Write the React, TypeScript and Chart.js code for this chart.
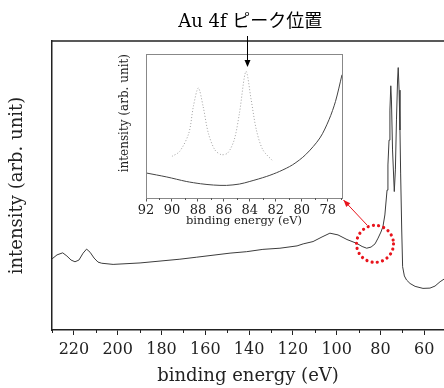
import React, { useEffect, useRef } from 'react';
import { Chart, registerables } from 'chart.js';

Chart.register(...registerables);

// ---- main spectrum (binding energy eV, intensity arb.) ----
const mainEnergy = [
  230, 227.7, 225.1, 223.2, 221.3, 219.5, 217.7, 215.8, 214.2, 212.6, 210.8, 209, 207.3,
  202.1, 189.8, 171.6, 163.9, 148.7, 141.1, 133.7, 125.9, 118.1, 115.3, 110.8, 106.7, 103.1,
  99.4, 95.3, 90.9, 88.4, 86.3, 84.3, 82.5, 81.1, 79.8, 78.9, 78.0, 77.0, 76.6, 76.1, 75.7,
  75.3, 75.0, 74.5, 73.7, 73.2, 72.7, 72.2, 71.9, 71.5, 71.1, 70.8, 70.3, 69.9, 69.1, 68.1,
  66.5, 64.2, 60.6, 57.4, 55.1, 52.8, 51,
];
const mainIntensity = [
  24.6, 26.0, 26.7, 25.6, 24.2, 23.6, 24.2, 26.6, 28.0, 26.9, 24.9, 23.5, 23.1,
  22.7, 23.2, 24.5, 25.2, 26.6, 27.1, 27.9, 28.3, 29.1, 29.8, 30.6, 32.2, 33.5,
  32.9, 31.3, 30.0, 28.9, 28.3, 28.7, 29.8, 31.8, 33.9, 35.7, 39.8, 48.4, 57.1, 65.7, 76.1,
  84.5, 79.6, 62.3, 47.9, 55.4, 72.7, 86.5, 90.8, 83.0, 69.2, 54.3, 34.6, 21.9, 18.7, 17.3,
  16.1, 15.1, 14.4, 14.5, 15.2, 16.7, 17.6,
];
const mainTicks = [220, 200, 180, 160, 140, 120, 100, 80, 60];
const mainMinorTicks = [230, 210, 190, 170, 150, 130, 110, 90, 70];

// ---- inset: measured spectrum and Au 4f reference (dotted) ----
const insetEnergy = [92, 90.4, 88.9, 87.8, 86.8, 85.8, 84.8, 84.0, 82.7, 81.7, 80.7, 79.7, 78.6, 77.9, 77.4, 76.9];
const insetIntensity = [17.4, 14.6, 11.5, 9.9, 9.0, 8.75, 9.7, 11.5, 15.0, 18.5, 23.1, 30.1, 41.7, 54.4, 67.1, 85.6];
const refEnergy = [90.0, 89.4, 88.7, 88.35, 87.97, 87.6, 87.2, 86.7, 86.2, 85.7, 85.2, 84.8, 84.3, 83.9, 83.5, 83.0, 82.2];
const refIntensity = [28.9, 32.4, 45.1, 63.6, 76.4, 63.6, 45.1, 33.5, 30.1, 31.3, 40.5, 59.0, 87.9, 68.3, 47.4, 33.5, 25.4];
const insetTicks = [92, 90, 88, 86, 84, 82, 80, 78];
const insetMinorTicks = [91, 89, 87, 85, 83, 81, 79, 77];

// ---- annotations ----
const peakLabel = 'Au 4f ピーク位置';
const peakEnergy = 84.2;
const circleEnergy = 82.5;
const circleIntensity = 29.8;

const SERIF = '"DejaVu Serif", "Noto Sans CJK JP", serif';
const INK = '#222';

const pts = (xs: number[], ys: number[]) => xs.map((x, i) => ({ x, y: ys[i] }));

function arrowHead(ctx: CanvasRenderingContext2D, x: number, y: number, ang: number, len: number, half: number) {
  ctx.beginPath();
  ctx.moveTo(x, y);
  ctx.lineTo(x - len * Math.cos(ang) + half * Math.sin(ang), y - len * Math.sin(ang) - half * Math.cos(ang));
  ctx.lineTo(x - len * Math.cos(ang) - half * Math.sin(ang), y - len * Math.sin(ang) + half * Math.cos(ang));
  ctx.closePath();
  ctx.fill();
}

export default function App() {
  const mainRef = useRef<HTMLCanvasElement>(null);
  const insetRef = useRef<HTMLCanvasElement>(null);

  useEffect(() => {
    const mainDecor = {
      id: 'mainDecor',
      afterDraw(chart: any) {
        const { ctx, chartArea: ca, scales } = chart;
        ctx.save();
        ctx.strokeStyle = INK;
        ctx.lineWidth = 1.5;
        ctx.beginPath();
        ctx.moveTo(ca.left, ca.top);
        ctx.lineTo(ca.right, ca.top);
        ctx.stroke();
        ctx.lineWidth = 1;
        ctx.beginPath();
        for (const v of mainMinorTicks) {
          const px = Math.round(scales.x.getPixelForValue(v)) + 0.5;
          ctx.moveTo(px, ca.bottom);
          ctx.lineTo(px, ca.bottom + 3);
        }
        ctx.stroke();
        ctx.restore();
      },
    };

    const main = new Chart(mainRef.current!, {
      type: 'line',
      data: {
        datasets: [{
          data: pts(mainEnergy, mainIntensity),
          borderColor: '#3c3c3c',
          borderWidth: 1,
          pointRadius: 0,
          tension: 0,
          fill: false,
        }],
      },
      options: {
        responsive: false,
        animation: false,
        events: [],
        layout: { padding: { left: 0, top: 41, right: 0, bottom: 0 } },
        plugins: { legend: { display: false }, tooltip: { enabled: false } },
        scales: {
          x: {
            type: 'linear',
            reverse: true,
            min: 51,
            max: 230,
            afterBuildTicks: (s: any) => { s.ticks = mainTicks.map((v) => ({ value: v })); },
            afterFit: (s: any) => { s.height = 58; },
            grid: { display: true, drawOnChartArea: false, drawTicks: true, tickLength: 5, color: INK, tickColor: INK },
            border: { display: true, color: INK, width: 1.5 },
            ticks: { color: INK, font: { family: SERIF, size: 16 }, padding: 5, maxRotation: 0, autoSkip: false },
            title: { display: true, text: 'binding energy (eV)', color: INK, font: { family: SERIF, size: 18 }, padding: { top: 0, bottom: 1 } },
          },
          y: {
            min: 0,
            max: 100,
            afterFit: (s: any) => { s.width = 52; },
            grid: { display: false },
            border: { display: true, color: INK, width: 1.5 },
            ticks: { display: false },
            title: { display: true, text: 'intensity (arb. unit)', color: INK, font: { family: SERIF, size: 18 }, padding: { top: 7, bottom: 0 } },
          },
        },
      },
      plugins: [mainDecor],
    } as any);

    const insetDecor = {
      id: 'insetDecor',
      afterDraw(chart: any) {
        const { ctx, chartArea: ca, scales } = chart;
        ctx.save();
        // box
        ctx.strokeStyle = '#888';
        ctx.lineWidth = 1;
        ctx.strokeRect(Math.round(ca.left) + 0.5, Math.round(ca.top) + 0.5, Math.round(ca.right - ca.left), Math.round(ca.bottom - ca.top));
        // minor ticks
        ctx.strokeStyle = '#555';
        ctx.beginPath();
        for (const v of insetMinorTicks) {
          const px = Math.round(scales.x.getPixelForValue(v)) + 0.5;
          ctx.moveTo(px, ca.bottom);
          ctx.lineTo(px, ca.bottom + 2);
        }
        ctx.stroke();

        // peak label + arrow
        const ax = scales.x.getPixelForValue(peakEnergy);
        ctx.fillStyle = '#000';
        ctx.font = `18px ${SERIF}`;
        ctx.textAlign = 'center';
        ctx.textBaseline = 'middle';
        ctx.fillText(peakLabel, ax + 3, 22);
        ctx.strokeStyle = '#000';
        ctx.lineWidth = 1;
        ctx.beginPath();
        ctx.moveTo(Math.round(ax) + 0.5, 36);
        ctx.lineTo(Math.round(ax) + 0.5, 62);
        ctx.stroke();
        arrowHead(ctx, Math.round(ax) + 0.5, 67, Math.PI / 2, 7, 3);

        // red dotted circle on main spectrum
        const cx = main.scales.x.getPixelForValue(circleEnergy);
        const cy = main.scales.y.getPixelForValue(circleIntensity);
        const r = 18.5;
        ctx.strokeStyle = '#e8141c';
        ctx.fillStyle = '#e8141c';
        ctx.lineWidth = 3.2;
        ctx.lineCap = 'round';
        ctx.setLineDash([0.01, 5.3]);
        ctx.beginPath();
        ctx.arc(cx, cy, r, 0, Math.PI * 2);
        ctx.stroke();
        ctx.setLineDash([]);
        ctx.lineCap = 'butt';

        // red arrow from circle to inset corner
        const ang0 = (-113 * Math.PI) / 180;
        const sx = cx + (r + 2) * Math.cos(ang0);
        const sy = cy + (r + 2) * Math.sin(ang0);
        const ex = ca.right + 1.5;
        const ey = ca.bottom + 2;
        ctx.lineWidth = 1;
        ctx.beginPath();
        ctx.moveTo(sx, sy);
        ctx.lineTo(ex, ey);
        ctx.stroke();
        arrowHead(ctx, ex, ey, Math.atan2(ey - sy, ex - sx), 7, 2.8);
        ctx.restore();
      },
    };

    const inset = new Chart(insetRef.current!, {
      type: 'line',
      data: {
        datasets: [
          {
            data: pts(insetEnergy, insetIntensity),
            borderColor: '#444',
            borderWidth: 1,
            pointRadius: 0,
            tension: 0.3,
            fill: false,
          },
          {
            data: pts(refEnergy, refIntensity),
            borderColor: '#a0a0a0',
            borderWidth: 1,
            borderDash: [1, 2],
            pointRadius: 0,
            tension: 0.3,
            fill: false,
          },
        ],
      },
      options: {
        responsive: false,
        animation: false,
        events: [],
        layout: { padding: { left: 113, top: 54, right: 102, bottom: 160 } },
        plugins: { legend: { display: false }, tooltip: { enabled: false } },
        scales: {
          x: {
            type: 'linear',
            reverse: true,
            min: 76.9,
            max: 92,
            afterBuildTicks: (s: any) => { s.ticks = insetTicks.map((v) => ({ value: v })); },
            afterFit: (s: any) => { s.height = 30; },
            grid: { display: true, drawOnChartArea: false, drawTicks: true, tickLength: 3.5, color: '#555', tickColor: '#555' },
            border: { display: true, color: '#888', width: 1 },
            ticks: { color: INK, font: { family: SERIF, size: 13 }, padding: 1, maxRotation: 0, autoSkip: false },
            title: { display: true, text: 'binding energy (eV)', color: INK, font: { family: SERIF, size: 11.5 }, padding: { top: 0, bottom: 0 } },
          },
          y: {
            min: 0,
            max: 100,
            afterFit: (s: any) => { s.width = 33; },
            grid: { display: false },
            border: { display: true, color: '#888', width: 1 },
            ticks: { display: false },
            title: { display: true, text: 'intensity (arb. unit)', align: 'end', color: INK, font: { family: SERIF, size: 12 }, padding: { top: 5, bottom: 0 } },
          },
        },
      },
      plugins: [insetDecor],
    } as any);

    return () => {
      inset.destroy();
      main.destroy();
    };
  }, []);

  const cstyle: React.CSSProperties = { position: 'absolute', left: 0, top: 0, width: 444, height: 388 };
  return (
    <div style={{ position: 'fixed', left: 0, top: 0, width: 444, height: 388, background: '#fff' }}>
      <canvas ref={mainRef} width={444} height={388} style={cstyle} />
      <canvas ref={insetRef} width={444} height={388} style={cstyle} />
    </div>
  );
}
